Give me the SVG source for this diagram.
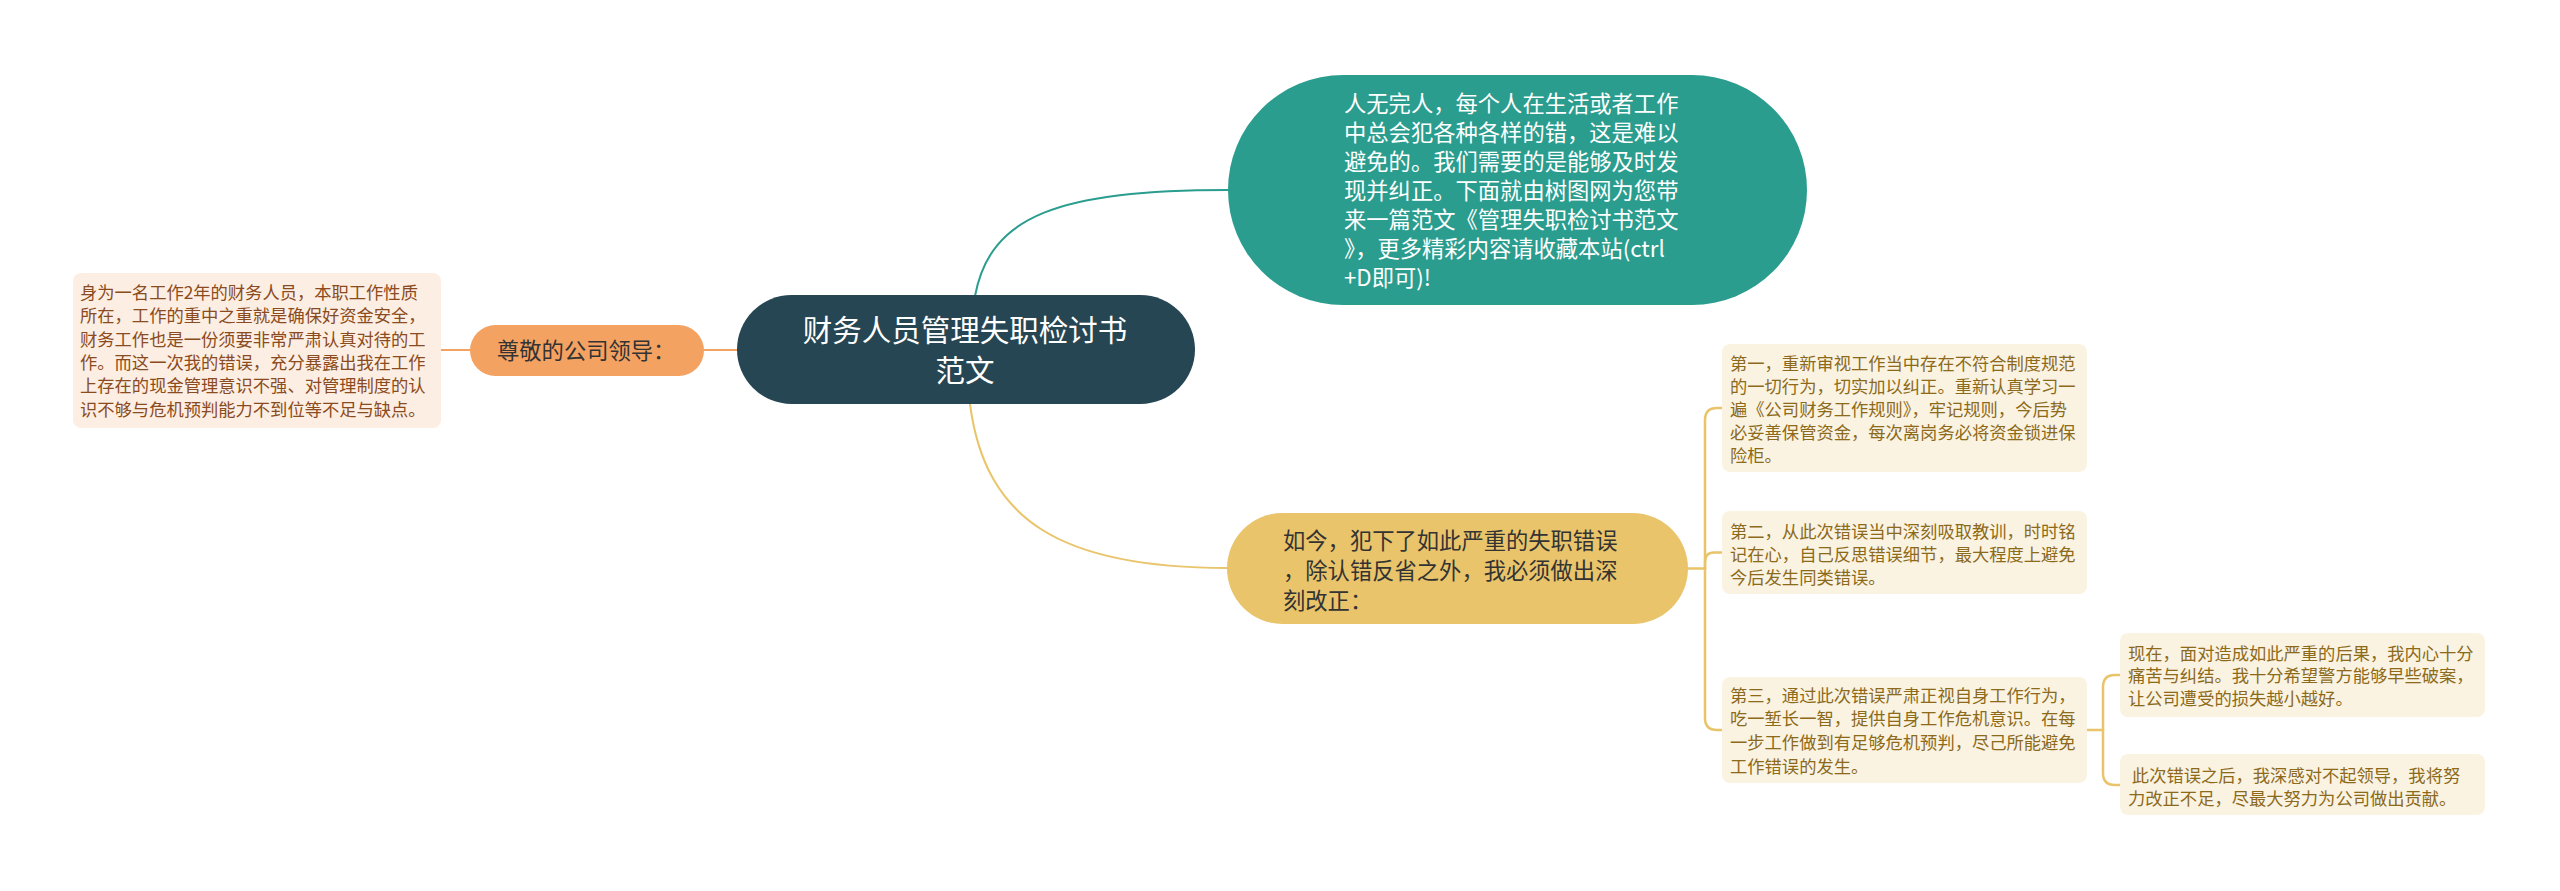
<svg xmlns="http://www.w3.org/2000/svg" width="2560" height="891" viewBox="0 0 2560 891">
<style>
text{font-family:"Noto Sans CJK SC","Noto Sans",sans-serif;}
.c{fill:none;stroke-width:2;stroke-linecap:round}
.or{stroke:#f4a261}
.te{stroke:#2a9d8f}
.ye{stroke:#e9c46a;stroke-width:2.5}
.leaf{fill:#fbf3e2}
.lt{font-size:17.3px;fill:#8c6a1a}
.l1{font-size:22.3px}
</style>
<rect width="2560" height="891" fill="#ffffff"/>
<g id="connectors">
<path class="c or" d="M704,350 H737"/>
<path class="c or" d="M441,350 H470"/>
<path class="c te" d="M975,296 C990,215 1060,190 1228,190"/>
<path class="c ye" style="stroke-width:2" d="M970,404 C985,520 1060,568 1228,568"/>
<path class="c ye" d="M1688,568.5 H1705"/>
<path class="c ye" d="M1705,568.5 V420 Q1705,408 1717,408 H1722"/>
<path class="c ye" d="M1705,568.5 V562 Q1705,552.5 1714,552.5 H1722"/>
<path class="c ye" d="M1705,568.5 V718 Q1705,730 1717,730 H1722"/>
<path class="c ye" d="M2087,730 H2103"/>
<path class="c ye" d="M2103,730 V687 Q2103,675 2115,675 H2120"/>
<path class="c ye" d="M2103,730 V773 Q2103,785 2115,785 H2120"/>
</g>
<g id="root">
<rect x="737" y="295" width="458" height="109" rx="54.5" fill="#264653"/>
<text x="965" y="341" font-size="29.5" fill="#ffffff" text-anchor="middle">财务人员管理失职检讨书</text>
<text x="965" y="381" font-size="29.5" fill="#ffffff" text-anchor="middle">范文</text>
</g>
<g id="greeting">
<rect x="470" y="325" width="234" height="51" rx="25.5" fill="#f4a261"/>
<text class="l1" x="497" y="358.5" fill="#333333">尊敬的公司领导：</text>
</g>
<g id="greeting-detail">
<rect x="73" y="273" width="368" height="155" rx="8" fill="#fdeee3"/>
<text class="lt" style="fill:#8a4b20">
<tspan x="80" y="299">身为一名工作2年的财务人员，本职工作性质</tspan>
<tspan x="80" y="322.3">所在，工作的重中之重就是确保好资金安全，</tspan>
<tspan x="80" y="345.6">财务工作也是一份须要非常严肃认真对待的工</tspan>
<tspan x="80" y="368.9">作。而这一次我的错误，充分暴露出我在工作</tspan>
<tspan x="80" y="392.2">上存在的现金管理意识不强、对管理制度的认</tspan>
<tspan x="80" y="415.5">识不够与危机预判能力不到位等不足与缺点。</tspan>
</text>
</g>
<g id="intro">
<rect x="1228" y="75" width="579" height="230" rx="115" fill="#2a9d8f"/>
<text class="l1" fill="#ffffff">
<tspan x="1344" y="111.8">人无完人，每个人在生活或者工作</tspan>
<tspan x="1344" y="140.9">中总会犯各种各样的错，这是难以</tspan>
<tspan x="1344" y="170">避免的。我们需要的是能够及时发</tspan>
<tspan x="1344" y="199.1">现并纠正。下面就由树图网为您带</tspan>
<tspan x="1344" y="228.2">来一篇范文《管理失职检讨书范文</tspan>
<tspan x="1344" y="257.3">》，更多精彩内容请收藏本站(ctrl</tspan>
<tspan x="1344" y="286.4">+D即可)!</tspan>
</text>
</g>
<g id="now">
<rect x="1227" y="513" width="461" height="111" rx="55.5" fill="#e9c46a"/>
<text class="l1" fill="#333333">
<tspan x="1283" y="548.5">如今，犯下了如此严重的失职错误</tspan>
<tspan x="1283" y="578.5">，除认错反省之外，我必须做出深</tspan>
<tspan x="1283" y="608.5">刻改正：</tspan>
</text>
</g>
<g id="first">
<rect class="leaf" x="1722" y="344" width="365" height="128" rx="8"/>
<text class="lt">
<tspan x="1730" y="369.6">第一，重新审视工作当中存在不符合制度规范</tspan>
<tspan x="1730" y="392.6">的一切行为，切实加以纠正。重新认真学习一</tspan>
<tspan x="1730" y="415.6">遍《公司财务工作规则》，牢记规则，今后势</tspan>
<tspan x="1730" y="438.6">必妥善保管资金，每次离岗务必将资金锁进保</tspan>
<tspan x="1730" y="461.6">险柜。</tspan>
</text>
</g>
<g id="second">
<rect class="leaf" x="1722" y="511" width="365" height="83" rx="8"/>
<text class="lt">
<tspan x="1730" y="538.3">第二，从此次错误当中深刻吸取教训，时时铭</tspan>
<tspan x="1730" y="561">记在心，自己反思错误细节，最大程度上避免</tspan>
<tspan x="1730" y="583.7">今后发生同类错误。</tspan>
</text>
</g>
<g id="third">
<rect class="leaf" x="1722" y="677" width="365" height="106" rx="8"/>
<text class="lt">
<tspan x="1730" y="701.6">第三，通过此次错误严肃正视自身工作行为，</tspan>
<tspan x="1730" y="725.3">吃一堑长一智，提供自身工作危机意识。在每</tspan>
<tspan x="1730" y="749">一步工作做到有足够危机预判，尽己所能避免</tspan>
<tspan x="1730" y="772.7">工作错误的发生。</tspan>
</text>
</g>
<g id="feeling">
<rect class="leaf" x="2120" y="633" width="365" height="84" rx="8"/>
<text class="lt">
<tspan x="2128" y="659.9">现在，面对造成如此严重的后果，我内心十分</tspan>
<tspan x="2128" y="682.4">痛苦与纠结。我十分希望警方能够早些破案，</tspan>
<tspan x="2128" y="704.9">让公司遭受的损失越小越好。</tspan>
</text>
</g>
<g id="promise">
<rect class="leaf" x="2120" y="754" width="365" height="61" rx="8"/>
<text class="lt" xml:space="preserve"><tspan x="2128" y="781.6"> 此次错误之后，我深感对不起领导，我将努</tspan><tspan x="2128" y="804.9">力改正不足，尽最大努力为公司做出贡献。</tspan></text>
</g>
</svg>
